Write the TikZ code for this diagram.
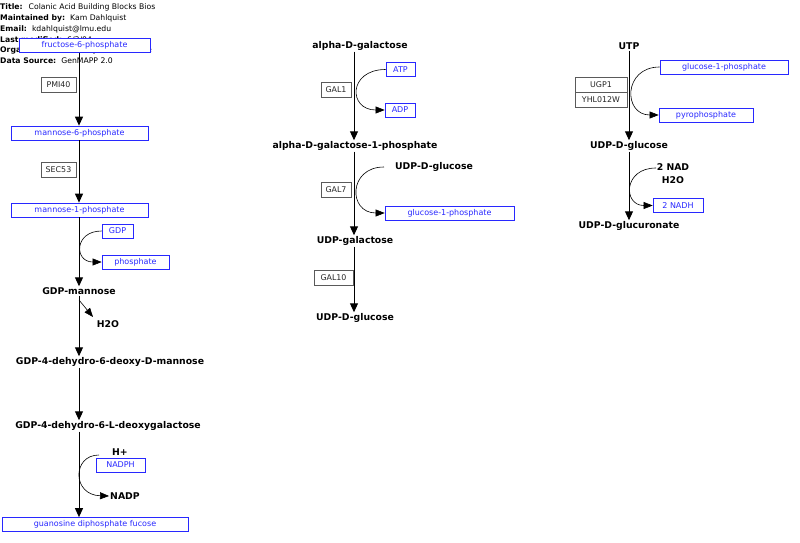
\documentclass[tikz,border=0pt]{standalone}
\usepackage{fontspec}
\setmainfont{DejaVu Sans}
\usetikzlibrary{arrows.meta}
\definecolor{mblue}{RGB}{40,40,255}
\definecolor{gbord}{RGB}{90,90,90}
\begin{document}
\begin{tikzpicture}[x=1pt,y=-1pt,
  met/.style={font=\bfseries\fontsize{9.3}{10}\selectfont, inner sep=1pt},
  bmet/.style={draw=mblue, fill=white, text=mblue, line width=0.7pt, font=\fontsize{8}{9}\selectfont, inner sep=0pt, minimum height=14pt},
  gene/.style={draw=gbord, text=black!85, line width=0.7pt, font=\fontsize{7.9}{9}\selectfont, inner sep=0pt, minimum height=15pt},
  hdr/.style={font=\fontsize{7.7}{9}\selectfont, inner sep=0pt, anchor=west},
  main/.style={line width=1pt, -{Triangle[length=9pt,width=8pt]}},
  side/.style={line width=0.6pt, -{Triangle[length=9pt,width=7pt]}}
]
\useasboundingbox (0,0) rectangle (800,543);
% header
\begin{scope}
\clip (0,0) rectangle (155,14);
\node[hdr] (hd1) at (0,7.5) {\textbf{Title:}\hspace{6pt}Colanic Acid Building Blocks Bios};
\end{scope}
\node[hdr] (hd2) at (0,18.5) {\textbf{Maintained by:}\hspace{5pt}Kam Dahlquist};
\node[hdr] (hd3) at (0,29.5) {\textbf{Email:}\hspace{5pt}kdahlquist@lmu.edu};
\node[hdr] (hd4) at (0,40) {\textbf{Last modified:}\hspace{5pt}6/3/04};
\node[hdr] (hd5) at (0,50) {\textbf{Organism:}\hspace{5pt}Saccharomyces cerevisiae};
\node[hdr] (hd6) at (0,60.5) {\textbf{Data Source:}\hspace{5pt}GenMAPP 2.0};

% left column
\node[bmet, minimum width=131pt] (f6p) at (84.5,45.5) {fructose-6-phosphate};
\node[gene, minimum width=35pt] (pmi) at (58.5,84.5) {PMI40};
\node[bmet, minimum width=137pt] (m6p) at (79.5,133) {mannose-6-phosphate};
\node[gene, minimum width=35pt] (sec) at (58.5,169.5) {SEC53};
\node[bmet, minimum width=137pt] (m1p) at (79.5,210) {mannose-1-phosphate};
\node[bmet, minimum width=31pt] (gdp) at (117.5,231) {GDP};
\node[bmet, minimum width=67pt] (pi) at (135.5,262) {phosphate};
\node[met] (gdpm) at (79,291) {GDP-mannose};
\node[met] (h2o) at (108,324) {H2O};
\node[met] (gdpdm) at (110,362) {GDP-4-dehydro-6-deoxy-D-mannose};
\node[met] (gdpdg) at (108,426) {GDP-4-dehydro-6-L-deoxygalactose};
\node[met] (hplus) at (120,452) {H+};
\node[bmet, minimum width=49pt] (nadph) at (120.5,465) {NADPH};
\node[met] (nadp) at (125,496) {NADP};
\node[bmet, minimum width=186pt] (gdpf) at (95,524.5) {guanosine diphosphate fucose};
\coordinate (lx) at (79,0);
\coordinate (c3) at (99,455);
\coordinate (c4) at (79,300);
\coordinate (c5) at (93,317);

\draw[main] (f6p.south -| lx) -- (m6p.north -| lx);
\draw[main] (m6p.south -| lx) -- (m1p.north -| lx);
\draw[main] (m1p.south -| lx) -- (gdpm.north -| lx);
\draw[main] (gdpm.south -| lx) -- (gdpdm.north -| lx);
\draw[main] (gdpdm.south -| lx) -- (gdpdg.north -| lx);
\draw[main] (gdpdg.south -| lx) -- (gdpf.north -| lx);
\draw[side] (gdp.west) .. controls (74,231) and (74,262) .. (pi.west);
\draw[side] (c4) -- (c5);
\draw[side] (c3) .. controls (72,455) and (72,495) .. (nadp.west);

% middle column
\node[met] (adg) at (360,46) {alpha-D-galactose};
\node[gene, minimum width=30pt] (gal1) at (336,90) {GAL1};
\node[bmet, minimum width=29pt] (atp) at (400.5,69.5) {ATP};
\node[bmet, minimum width=30pt] (adp) at (400,110) {ADP};
\node[met] (adg1p) at (355,146) {alpha-D-galactose-1-phosphate};
\node[gene, minimum width=30pt] (gal7) at (336,189.5) {GAL7};
\node[met] (udpg1) at (434,167) {UDP-D-glucose};
\node[bmet, minimum width=129pt] (g1p) at (449.5,213) {glucose-1-phosphate};
\node[met] (udpgal) at (355,241) {UDP-galactose};
\node[gene, minimum width=39pt] (gal10) at (333.5,277.5) {GAL10};
\node[met] (udpg2) at (355,318) {UDP-D-glucose};
\coordinate (mx) at (354,0);
\coordinate (c1) at (384,167);

\draw[main] (adg.south -| mx) -- (adg1p.north -| mx);
\draw[main] (adg1p.south -| mx) -- (udpgal.north -| mx);
\draw[main] (udpgal.south -| mx) -- (udpg2.north -| mx);
\draw[side] (atp.west) .. controls (348,69.5) and (348,110) .. (adp.west);
\draw[side] (c1) .. controls (348,167) and (348,213) .. (g1p.west);

% right column
\node[met] (utp) at (629,46) {UTP};
\node[gene, minimum width=52pt] (ugp1) at (601,84.5) {UGP1};
\node[gene, minimum width=52pt] (yhl) at (601,99.5) {YHL012W};
\node[bmet, minimum width=128pt] (g1p2) at (724,67) {glucose-1-phosphate};
\node[bmet, minimum width=94pt] (ppi) at (706,115) {pyrophosphate};
\node[met] (udpg3) at (629,146) {UDP-D-glucose};
\node[met] (nad) at (673,167) {2 NAD};
\node[met] (h2o2) at (673,180) {H2O};
\node[bmet, minimum width=50pt] (nadh) at (678,205.5) {2 NADH};
\node[met] (udpgu) at (629,226) {UDP-D-glucuronate};
\coordinate (rx) at (629,0);
\coordinate (c2) at (656,168);

\draw[main] (utp.south -| rx) -- (udpg3.north -| rx);
\draw[main] (udpg3.south -| rx) -- (udpgu.north -| rx);
\draw[side] (g1p2.west) .. controls (623,67) and (623,115) .. (ppi.west);
\draw[side] (c2) .. controls (623,168) and (623,205.5) .. (nadh.west);
\end{tikzpicture}
\end{document}
